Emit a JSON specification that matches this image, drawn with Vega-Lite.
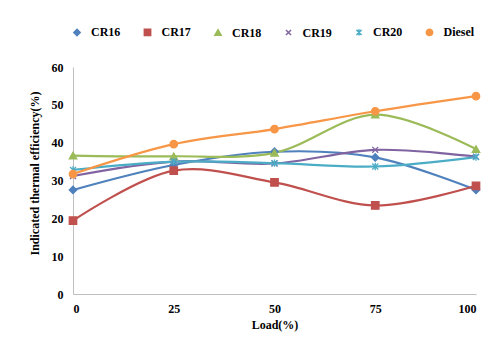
{
  "$schema": "https://vega.github.io/schema/vega-lite/v6.json",
  "width": 403,
  "height": 227,
  "autosize": "none",
  "padding": {"left": 73, "top": 67, "right": 21, "bottom": 60},
  "background": "white",
  "config": {
    "font": "Liberation Serif",
    "view": {"stroke": null},
    "axis": {"labelFont": "Liberation Serif", "titleFont": "Liberation Serif", "labelFontWeight": "bold", "titleFontWeight": "bold", "labelFontSize": 12, "titleFontSize": 12, "labelColor": "#000", "titleColor": "#000", "domainColor": "#bfbfbf", "ticks": false, "grid": false},
    "legend": {"orient": "none", "legendX": -2, "legendY": -41, "direction": "horizontal", "columns": 6, "gridAlign": "all", "labelFont": "Liberation Serif", "labelFontWeight": "bold", "labelFontSize": 12, "labelColor": "#000", "columnPadding": 18.5, "symbolSize": 40, "symbolStrokeWidth": 1.5, "labelOffset": 8}
  },
  "data": {"values": [
    {"load": 0, "series": "CR16", "eff": 27.5},
    {"load": 25, "series": "CR16", "eff": 34.1},
    {"load": 50, "series": "CR16", "eff": 37.6},
    {"load": 75, "series": "CR16", "eff": 36.1},
    {"load": 100, "series": "CR16", "eff": 27.5},
    {"load": 0, "series": "CR17", "eff": 19.4},
    {"load": 25, "series": "CR17", "eff": 32.6},
    {"load": 50, "series": "CR17", "eff": 29.5},
    {"load": 75, "series": "CR17", "eff": 23.4},
    {"load": 100, "series": "CR17", "eff": 28.6},
    {"load": 0, "series": "CR18", "eff": 36.6},
    {"load": 25, "series": "CR18", "eff": 36.4},
    {"load": 50, "series": "CR18", "eff": 37.3},
    {"load": 75, "series": "CR18", "eff": 47.4},
    {"load": 100, "series": "CR18", "eff": 38.3},
    {"load": 0, "series": "CR19", "eff": 31.2},
    {"load": 25, "series": "CR19", "eff": 35.0},
    {"load": 50, "series": "CR19", "eff": 34.5},
    {"load": 75, "series": "CR19", "eff": 38.1},
    {"load": 100, "series": "CR19", "eff": 36.3},
    {"load": 0, "series": "CR20", "eff": 32.8},
    {"load": 25, "series": "CR20", "eff": 35.0},
    {"load": 50, "series": "CR20", "eff": 34.6},
    {"load": 75, "series": "CR20", "eff": 33.7},
    {"load": 100, "series": "CR20", "eff": 36.2},
    {"load": 0, "series": "Diesel", "eff": 31.7},
    {"load": 25, "series": "Diesel", "eff": 39.6},
    {"load": 50, "series": "Diesel", "eff": 43.6},
    {"load": 75, "series": "Diesel", "eff": 48.3},
    {"load": 100, "series": "Diesel", "eff": 52.3}
  ]},
  "encoding": {
    "x": {"field": "load", "type": "quantitative", "title": "Load(%)", "scale": {"domain": [0, 100], "nice": false}, "axis": {"values": [0, 25, 50, 75, 100], "labelPadding": 9, "titlePadding": 5}},
    "y": {"field": "eff", "type": "quantitative", "title": "Indicated thermal efficiency(%)", "scale": {"domain": [0, 60], "nice": false}, "axis": {"values": [0, 10, 20, 30, 40, 50, 60], "labelPadding": 10, "titlePadding": 10, "titleY": 106}}
  },
  "layer": [
    {
      "mark": {"type": "line", "interpolate": "catmull-rom", "strokeWidth": 2.2},
      "encoding": {
        "color": {"field": "series", "type": "nominal", "scale": {"domain": ["CR16", "CR17", "CR18", "CR19", "CR20", "Diesel"], "range": ["#4F81BD", "#C0504D", "#9BBB59", "#8064A2", "#4BACC6", "#F79646"]}, "title": null}
      }
    },
    {
      "mark": {"type": "point", "filled": true, "size": 55, "strokeWidth": 1.3, "opacity": 1},
      "encoding": {
        "color": {"field": "series", "type": "nominal", "title": null},
        "stroke": {"field": "series", "type": "nominal", "scale": {"domain": ["CR16", "CR17", "CR18", "CR19", "CR20", "Diesel"], "range": ["#4F81BD", "#C0504D", "#9BBB59", "#8064A2", "#4BACC6", "#F79646"]}, "title": null},
        "shape": {"field": "series", "type": "nominal", "scale": {"domain": ["CR16", "CR17", "CR18", "CR19", "CR20", "Diesel"], "range": ["diamond", "square", "triangle-up", "M-0.8,-0.8L0.8,0.8M-0.8,0.8L0.8,-0.8", "M-0.8,-0.8L0.8,0.8M-0.8,0.8L0.8,-0.8M0,-1L0,1", "circle"]}, "title": null}
      }
    }
  ]
}
